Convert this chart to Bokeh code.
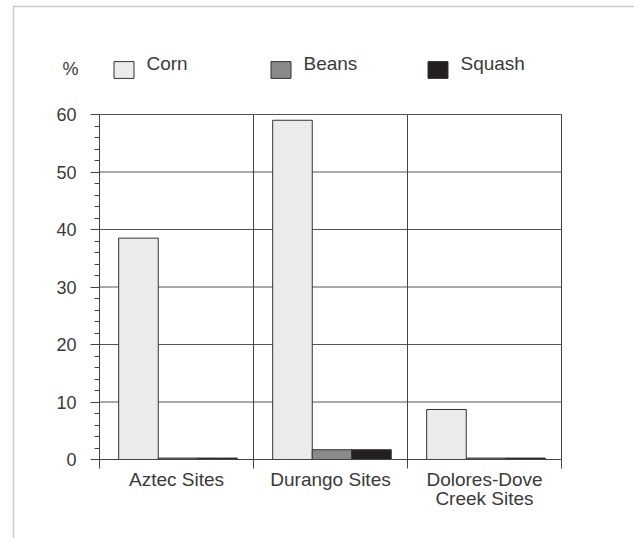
from bokeh.plotting import figure
from bokeh.models import (Range1d, FixedTicker, SingleIntervalTicker, Legend, LegendItem,
                          Label, PolyAnnotation, ColumnDataSource, LinearAxis)
from bokeh.embed import file_html
from bokeh.resources import INLINE

# ---- data ----
sites = ["Aztec Sites", "Durango Sites", "Dolores-Dove\nCreek Sites"]
series = ["Corn", "Beans", "Squash"]
corn = [38.5, 59.0, 8.7]
beans = [0.25, 1.7, 0.25]
squash = [0.25, 1.7, 0.25]
y_ticks = [0, 10, 20, 30, 40, 50, 60]

# ---- layout / styles ----
W, H = 634, 538
X0, Y0 = 99, 459          # pixel position of the data origin
PX_X, PX_Y = 154, 5.75    # pixels per data unit
FONT = "Liberation Sans"
TXT = "#3a3a3a"
LINE = "#444444"
colors = ["#ebebeb", "#8a8a8c", "#231f20"]
offsets = [-0.247, 0.010, 0.266]
bar_w = 0.257
ncat = len(sites)
ymax = y_ticks[-1]

p = figure(width=W, height=H, output_backend="svg", toolbar_location=None,
           x_range=Range1d(-X0 / PX_X, (W - X0) / PX_X),
           y_range=Range1d(-(H - Y0) / PX_Y, Y0 / PX_Y),
           x_axis_location=None, y_axis_location=None, min_border=0)
p.title.visible = False
p.outline_line_color = None
p.xgrid.grid_line_color = None
p.ygrid.grid_line_color = None
p.background_fill_color = "white"
p.border_fill_color = "white"

# grid lines and separators (behind bars)
p.segment(x0=[0] * (len(y_ticks) - 1), x1=[ncat] * (len(y_ticks) - 1),
          y0=y_ticks[1:], y1=y_ticks[1:], line_color="#555555", line_width=1)
p.segment(x0=list(range(1, ncat + 1)), x1=list(range(1, ncat + 1)),
          y0=[0] * ncat, y1=[ymax] * ncat, line_color=LINE, line_width=1)

# y axis
ya = LinearAxis(fixed_location=0, bounds=(0, ymax),
                ticker=SingleIntervalTicker(interval=10, num_minor_ticks=5))
ya.axis_line_color = LINE
ya.major_tick_line_color = LINE
ya.minor_tick_line_color = LINE
ya.major_tick_out = 9
ya.major_tick_in = 0
ya.minor_tick_out = 5
ya.minor_tick_in = 0
ya.major_label_standoff = 14
ya.major_label_text_font = FONT
ya.major_label_text_font_size = "18px"
ya.major_label_text_color = TXT
p.add_layout(ya, "left")

# x axis
centers = [i + 0.5 for i in range(ncat)]
xa = LinearAxis(fixed_location=0, bounds=(0, ncat),
                ticker=FixedTicker(ticks=centers, minor_ticks=list(range(ncat + 1))))
xa.major_label_overrides = {c: s for c, s in zip(centers, sites)}
xa.axis_line_color = LINE
xa.major_tick_out = 0
xa.major_tick_in = 0
xa.minor_tick_line_color = LINE
xa.minor_tick_out = 9
xa.minor_tick_in = 0
xa.major_label_standoff = 0
xa.major_label_text_font = FONT
xa.major_label_text_font_size = "19px"
xa.major_label_text_line_height = 0.95
xa.major_label_text_color = TXT
p.add_layout(xa, "below")

# bars
swatch_items, label_items = [], []
for name, vals, col, off in zip(series, [corn, beans, squash], colors, offsets):
    src = ColumnDataSource(dict(x=[c + off for c in centers], top=vals))
    r = p.vbar(x="x", top="top", bottom=0, width=bar_w, source=src,
               fill_color=col, line_color="#333333", line_width=1)
    swatch_items.append(LegendItem(label=" ", renderers=[r]))
    ghost = p.vbar(x=[], top=[], width=bar_w, fill_alpha=0, line_alpha=0)
    label_items.append(LegendItem(label=name, renderers=[ghost]))

legend_kw = dict(orientation="horizontal", glyph_width=25, glyph_height=21,
                 label_standoff=11, label_width=110, spacing=11, padding=0, margin=0,
                 border_line_color=None, background_fill_alpha=0, label_text_font=FONT,
                 label_text_font_size="19px", label_text_color=TXT)
# colour swatches (linked to the bars) and their labels, set slightly higher as in the source
p.add_layout(Legend(items=swatch_items, location=(110.5, H - 80), **legend_kw))
p.add_layout(Legend(items=label_items, location=(110.5, H - 75), **legend_kw))

pct = Label(x=(62 - X0) / PX_X, y=(Y0 - 68) / PX_Y, text="%", text_font=FONT,
            text_font_size="18px", text_color=TXT, text_align="left",
            text_baseline="alphabetic")
p.add_layout(pct)

# outer frame: top and left edges (the others run off the picture)
fl, ft = (13 - X0) / PX_X, (Y0 - 6) / PX_Y
frame_poly = PolyAnnotation(xs=[20, fl, fl], ys=[ft, ft, -200],
                            fill_alpha=0, line_color="#555555", line_width=1.5)
p.add_layout(frame_poly)

open("out.html", "w").write(file_html(p, INLINE))
